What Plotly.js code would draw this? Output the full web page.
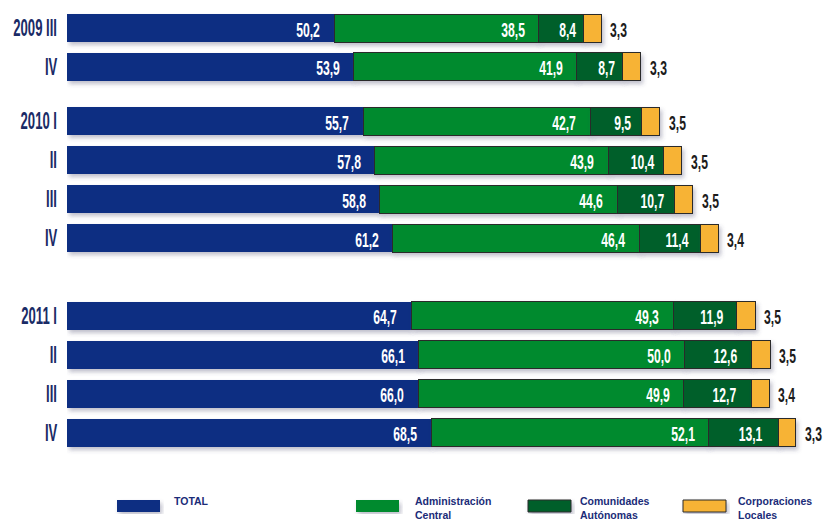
<!DOCTYPE html>
<html>
<head>
<meta charset="utf-8">
<script src="https://cdn.plot.ly/plotly-3.0.1.min.js"></script>
<style>
  html, body { margin: 0; padding: 0; background: #ffffff; }
  #chart { width: 827px; height: 522px; }
</style>
</head>
<body>
<div id="chart"></div>
<script>
// ---- data ----
const periods = ['2009 III', 'IV', '2010 I', 'II', 'III', 'IV', '2011 I', 'II', 'III', 'IV'];
const yearGroup = [0, 0, 1, 1, 1, 1, 2, 2, 2, 2];
const total = [50.2, 53.9, 55.7, 57.8, 58.8, 61.2, 64.7, 66.1, 66.0, 68.5];
const adminCentral = [38.5, 41.9, 42.7, 43.9, 44.6, 46.4, 49.3, 50.0, 49.9, 52.1];
const comunidades = [8.4, 8.7, 9.5, 10.4, 10.7, 11.4, 11.9, 12.6, 12.7, 13.1];
const corporaciones = [3.3, 3.3, 3.5, 3.5, 3.5, 3.4, 3.5, 3.5, 3.4, 3.3];
const seriesNames = ['TOTAL', 'Administración<br>Central', 'Comunidades<br>Autónomas', 'Corporaciones<br>Locales'];

// ---- layout constants ----
const groupExtra = [0, 0.4, 1.4];            // extra spacing before each year group
const ypos = periods.map((p, i) => i + groupExtra[yearGroup[i]]);
const colors = ['#0e2f82', '#008a2e', '#005f2b', '#f7b334'];
const W = 827, H = 522;
const mL = 67, mR = 0, mT = 0, mB = 52;
const plotW = W - mL - mR, plotH = H - mT - mB;
const rowPx = 38.9;
const pxPerUnit = 5.32;
const yTop = -28 / rowPx;
const yBottom = yTop + plotH / rowPx;
const labelFont = "'Liberation Sans', Arial, sans-serif";
const VALUE_SCALE = 0.58, TICK_SCALE = 0.57;   // horizontal condensing of the bold labels
const fmt = v => v.toFixed(1).replace('.', ',');

const series = [total, adminCentral, comunidades, corporaciones];
const traces = series.map((vals, k) => ({
  type: 'bar',
  orientation: 'h',
  name: seriesNames[k].replace('<br>', ' '),
  x: vals,
  y: ypos,
  width: 0.72,
  marker: {
    color: colors[k],
    line: { color: k === 0 ? colors[0] : '#2b2b2b', width: k === 0 ? 0 : 1 }
  },
  hoverinfo: 'x+name',
  showlegend: false
}));

const annotations = [];
const shapes = [];

// legend drawn with shapes + annotations (paper coordinates from pixels) -- first, so indices 0..3
const px2x = px => (px - mL) / plotW;
const px2y = py => (mT + plotH - py) / plotH;
const legendRects = [[117, 160], [356, 399], [528, 571], [683, 726]];
const legendText = [172, 413, 578, 736];
legendRects.forEach((r, k) => {
  shapes.push({
    type: 'rect', xref: 'paper', yref: 'paper',
    x0: px2x(r[0]), x1: px2x(r[1]), y0: px2y(512), y1: px2y(500),
    fillcolor: colors[k],
    line: { color: k < 2 ? colors[k] : '#2b2b2b', width: k < 2 ? 0 : 1 }
  });
  annotations.push({
    xref: 'paper', yref: 'paper', x: px2x(legendText[k]), y: px2y(493),
    xanchor: 'left', yanchor: 'top', align: 'left', showarrow: false,
    text: seriesNames[k],
    font: { family: "'Liberation Sans', Arial, sans-serif", size: 10.5, color: '#1b2c78', weight: 700 }
  });
});
const legendCount = annotations.length;

// value labels
ypos.forEach((y, i) => {
  let acc = 0;
  series.forEach((vals, k) => {
    const start = acc;
    acc += vals[i];
    const base = {
      y: y, xref: 'x', yref: 'y', text: fmt(vals[i]),
      showarrow: false, yanchor: 'middle', yshift: -1,
      font: { family: labelFont, size: 21, color: '#ffffff', weight: 700 }
    };
    if (k < 2) {
      annotations.push(Object.assign(base, { x: acc, xanchor: 'right', xshift: -12 }));
    } else if (k === 2) {
      annotations.push(Object.assign(base, { x: (start + acc) / 2, xanchor: 'center', xshift: 7 }));
    } else {
      base.font = { family: labelFont, size: 21, color: '#1c1c1c', weight: 700 };
      annotations.push(Object.assign(base, { x: acc, xanchor: 'left', xshift: 7 }));
    }
  });
});

const layout = {
  width: W, height: H,
  margin: { l: mL, r: mR, t: mT, b: mB, pad: 0 },
  paper_bgcolor: '#ffffff',
  plot_bgcolor: '#ffffff',
  barmode: 'stack',
  showlegend: false,
  xaxis: {
    range: [0, plotW / pxPerUnit],
    visible: false, showgrid: false, zeroline: false, fixedrange: true
  },
  yaxis: {
    range: [yBottom, yTop],
    tickmode: 'array', tickvals: ypos, ticktext: periods,
    showgrid: false, zeroline: false, showline: false, ticks: '',
    ticklabelstandoff: 9,
    tickfont: { family: labelFont, size: 23, color: '#1a2b66', weight: 700 },
    fixedrange: true
  },
  shapes: shapes,
  annotations: annotations
};

// squeeze a text element horizontally about its anchor point (keeps it real text)
function condense(t, anchor, s) {
  const b = t.getBBox();
  const ax = anchor === 'end' ? b.x + b.width : anchor === 'start' ? b.x : b.x + b.width / 2;
  const prev = t.getAttribute('transform') || '';
  t.setAttribute('transform', prev + ' translate(' + ax + ',0) scale(' + s + ',1) translate(' + (-ax) + ',0)');
}

function addShadow(gd) {
  const NS = 'http://www.w3.org/2000/svg';
  const svg = gd.querySelector('svg.main-svg');
  const defs = document.createElementNS(NS, 'defs');
  const filter = document.createElementNS(NS, 'filter');
  filter.setAttribute('id', 'softShadow');
  filter.setAttribute('x', '-5%'); filter.setAttribute('y', '-10%');
  filter.setAttribute('width', '112%'); filter.setAttribute('height', '125%');
  const ds = document.createElementNS(NS, 'feDropShadow');
  ds.setAttribute('dx', '2'); ds.setAttribute('dy', '3');
  ds.setAttribute('stdDeviation', '2');
  ds.setAttribute('flood-color', '#4a4a6a');
  ds.setAttribute('flood-opacity', '0.35');
  filter.appendChild(ds);
  defs.appendChild(filter);
  svg.insertBefore(defs, svg.firstChild);
  gd.querySelectorAll('.barlayer .trace').forEach(g => g.setAttribute('filter', 'url(#softShadow)'));
  gd.querySelectorAll('.layer-above .shapelayer path').forEach(p => p.setAttribute('filter', 'url(#softShadow)'));
}

Plotly.newPlot('chart', traces, layout, { displayModeBar: false, staticPlot: true }).then(gd => {
  gd.querySelectorAll('g.annotation').forEach(g => {
    const idx = +g.getAttribute('data-index');
    if (idx < legendCount) return;
    const t = g.querySelector('text.annotation-text');
    if (!t) return;
    const xa = annotations[idx].xanchor;
    condense(t, xa === 'right' ? 'end' : xa === 'left' ? 'start' : 'middle', VALUE_SCALE);
  });
  gd.querySelectorAll('.yaxislayer-above .ytick text').forEach(t => condense(t, 'end', TICK_SCALE));
  addShadow(gd);
});
</script>
</body>
</html>
